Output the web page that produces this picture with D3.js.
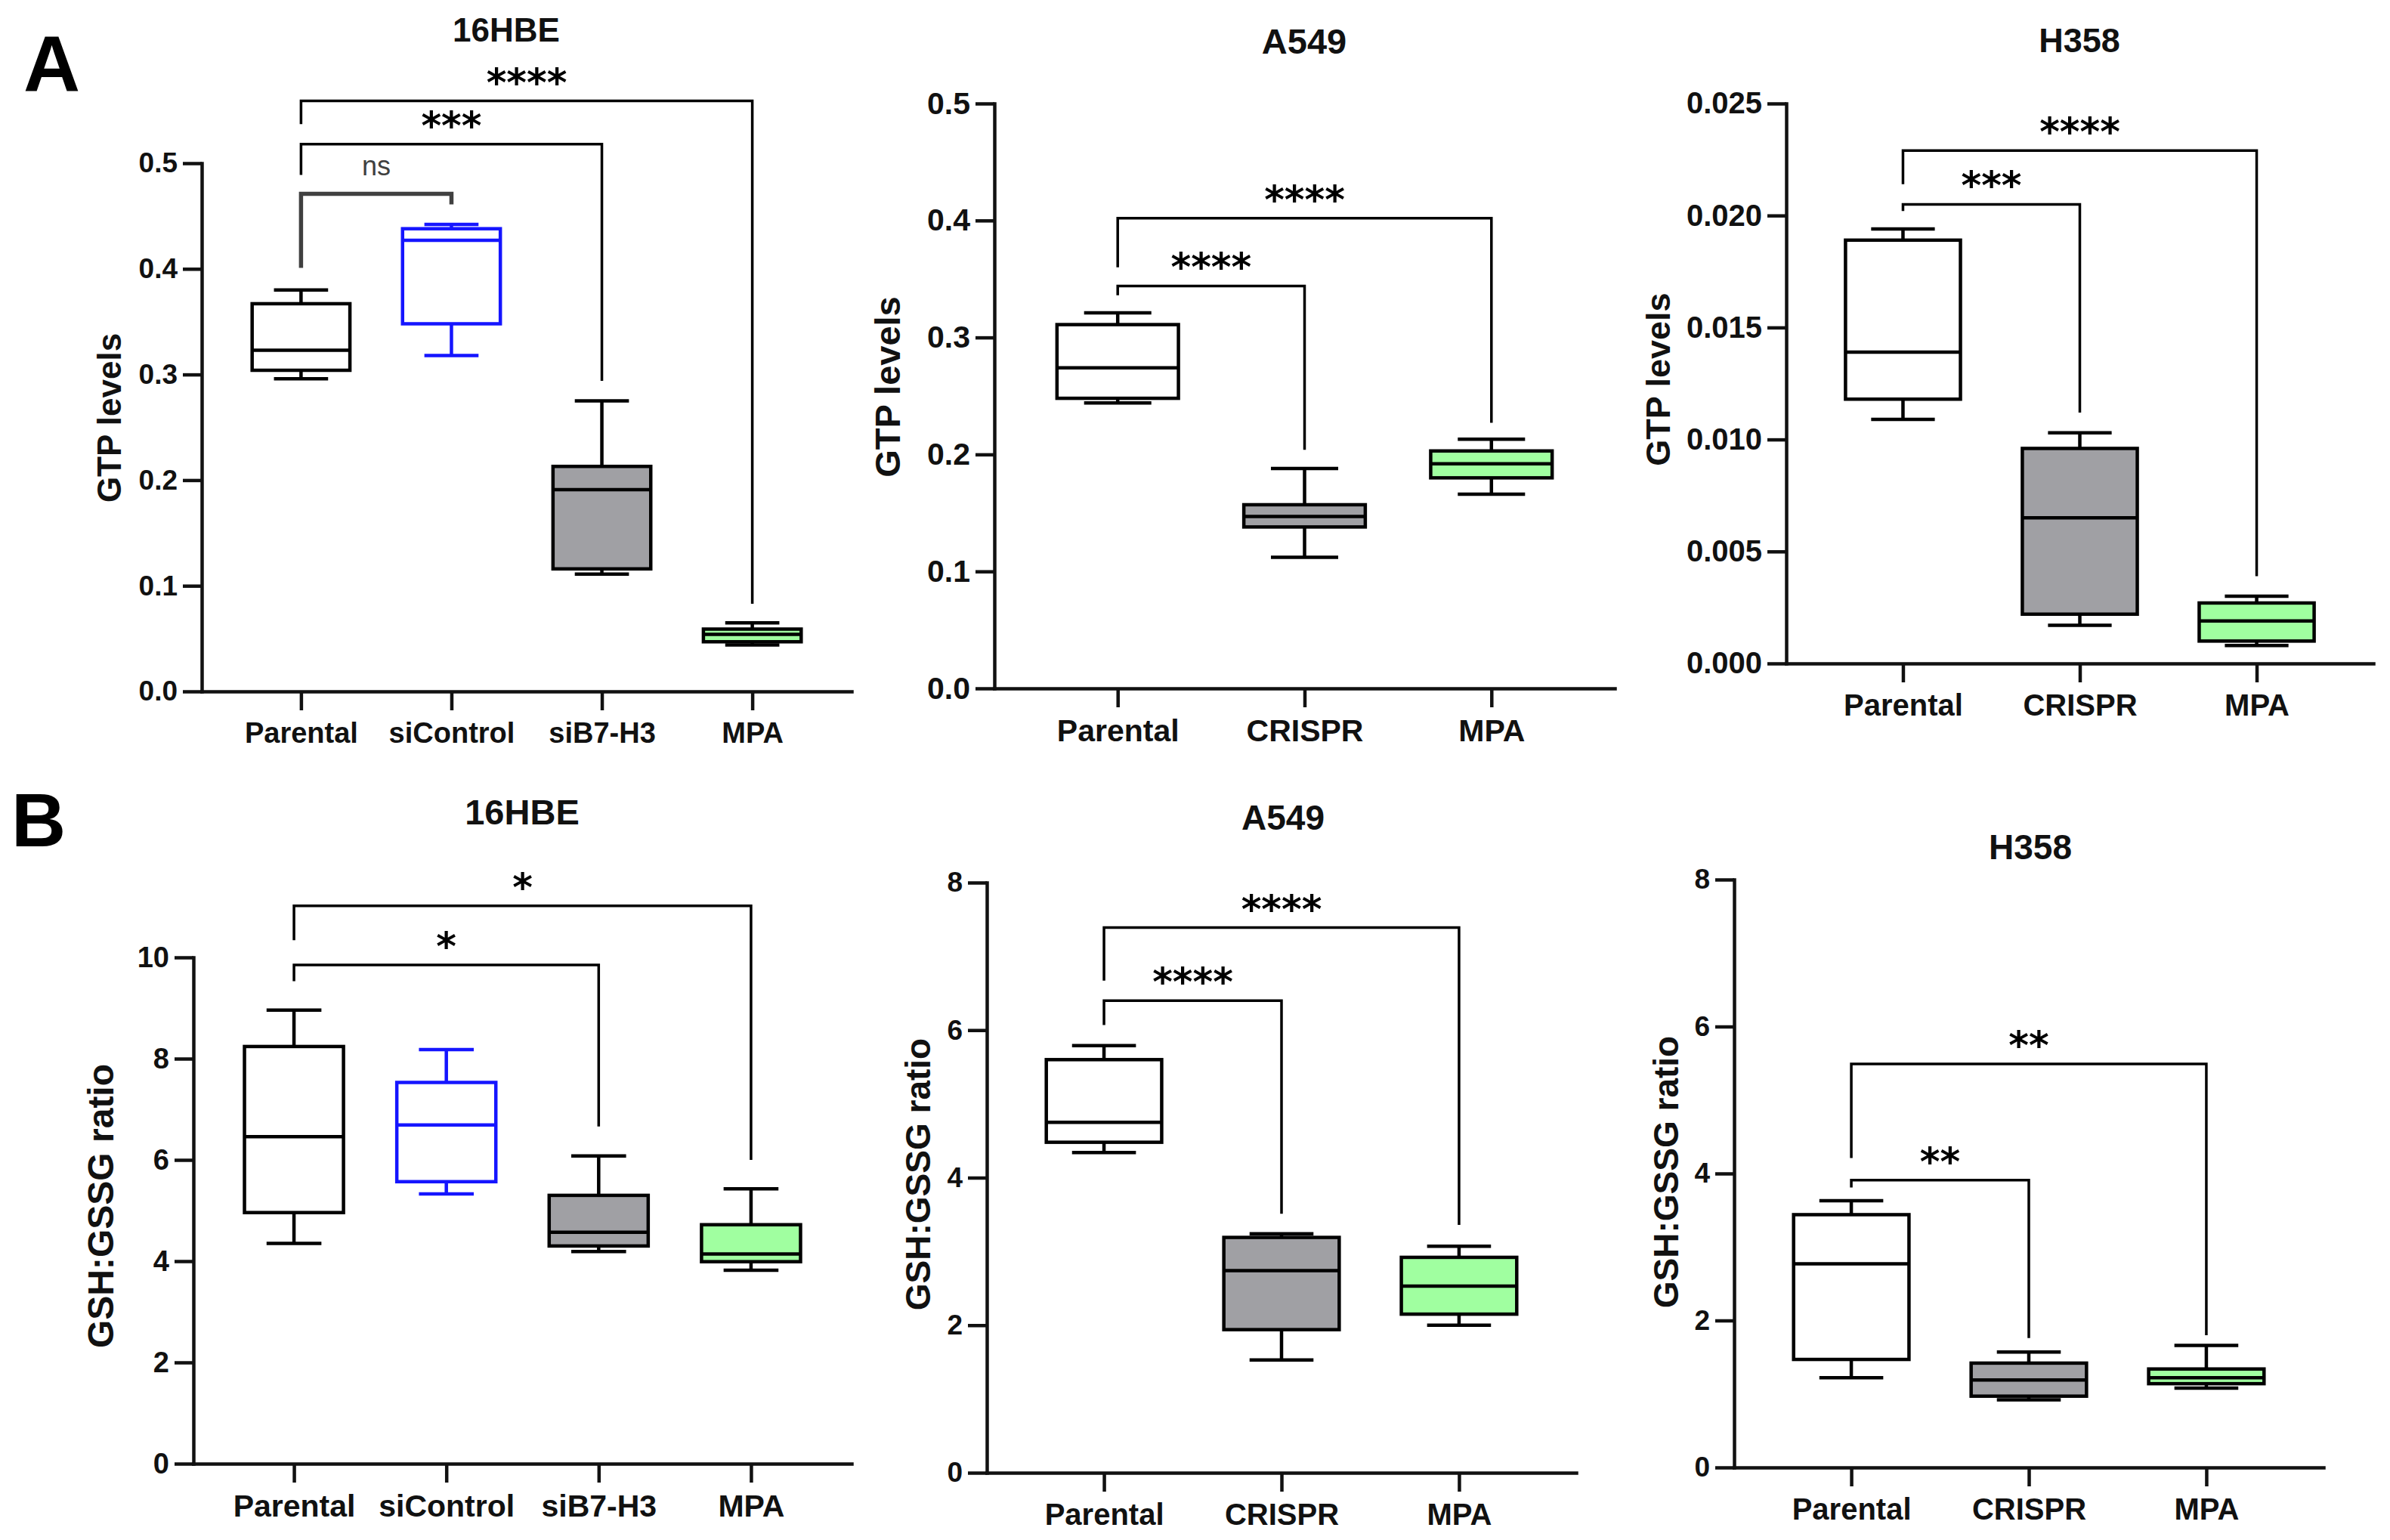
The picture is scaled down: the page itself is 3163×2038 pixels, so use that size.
<!DOCTYPE html>
<html>
<head>
<meta charset="utf-8">
<script src="https://cdn.jsdelivr.net/npm/d3@7"></script>
<style>
  html, body { margin: 0; padding: 0; background: #fff; }
</style>
</head>
<body>
<div id="chart"></div>
<script>
const W = 3163, H = 2038;

// groups on the x axis
const groups16HBE = ["Parental", "siControl", "siB7-H3", "MPA"];
const groupsCRISPR = ["Parental", "CRISPR", "MPA"];

// box summaries, one row per group: [min, q1, median, q3, max]
const gtp16HBE = [
    [0.296, 0.304, 0.323, 0.367, 0.380],
    [0.318, 0.348, 0.427, 0.438, 0.442],
    [0.111, 0.116, 0.191, 0.213, 0.275],
    [0.044, 0.047, 0.054, 0.059, 0.065]
];
const gtpA549 = [
    [0.244, 0.248, 0.274, 0.311, 0.321],
    [0.112, 0.138, 0.147, 0.157, 0.188],
    [0.166, 0.180, 0.192, 0.203, 0.213]
];
const gtpH358 = [
    [0.0109, 0.0118, 0.0139, 0.0189, 0.0194],
    [0.0017, 0.0022, 0.0065, 0.0096, 0.0103],
    [0.0008, 0.0010, 0.0019, 0.0027, 0.0030]
];
const gsh16HBE = [
    [4.35, 4.96, 6.46, 8.24, 8.96],
    [5.33, 5.57, 6.69, 7.53, 8.18],
    [4.19, 4.30, 4.57, 5.30, 6.08],
    [3.82, 3.99, 4.14, 4.72, 5.43]
];
const gshA549 = [
    [4.34, 4.48, 4.75, 5.60, 5.79],
    [1.53, 1.94, 2.74, 3.19, 3.24],
    [2.00, 2.15, 2.53, 2.92, 3.07]
];
const gshH358 = [
    [1.22, 1.47, 2.77, 3.44, 3.63],
    [0.92, 0.97, 1.19, 1.42, 1.57],
    [1.08, 1.14, 1.22, 1.34, 1.66]
];

// y tick labels
const ticksGtp = [0, 0.1, 0.2, 0.3, 0.4, 0.5];
const ticksGtpH358 = [0, 0.005, 0.010, 0.015, 0.020, 0.025];
const ticksGsh16HBE = [0, 2, 4, 6, 8, 10];
const ticksGsh = [0, 2, 4, 6, 8];

// significance brackets: [from group, to group, bar, left leg end, right leg end, label]
const sigGtp16HBE = [
    [0, 1, 0.471, 0.401, 0.461, "ns"],
    [0, 2, 0.518, 0.489, 0.294, "***"],
    [0, 3, 0.559, 0.537, 0.083, "****"]
];
const sigGtpA549 = [
    [0, 1, 0.344, 0.336, 0.204, "****"],
    [0, 2, 0.402, 0.360, 0.227, "****"]
];
const sigGtpH358 = [
    [0, 1, 0.0205, 0.0202, 0.0112, "***"],
    [0, 2, 0.0229, 0.0214, 0.0039, "****"]
];
const sigGsh16HBE = [
    [0, 2, 9.85, 9.53, 6.66, "*"],
    [0, 3, 11.02, 10.34, 6.00, "*"]
];
const sigGshA549 = [
    [0, 1, 6.40, 6.07, 3.51, "****"],
    [0, 2, 7.39, 6.67, 3.36, "****"]
];
const sigGshH358 = [
    [0, 1, 3.91, 3.81, 1.76, "**"],
    [0, 2, 5.49, 4.21, 1.80, "**"]
];

const gray = "#a0a0a4", green = "#a0ffa0", blue = "#1515ff";
const fills = { "Parental": "#fff", "siControl": "#fff", "siB7-H3": gray, "CRISPR": gray, "MPA": green };
const strokes = { "Parental": "#000", "siControl": blue, "siB7-H3": "#000", "CRISPR": "#000", "MPA": "#000" };

const font = "'Liberation Sans', Arial, Helvetica, sans-serif";

const panels = [
    { title: "16HBE", groups: groups16HBE, stats: gtp16HBE, ticks: ticksGtp, fmt: ".1f", sig: sigGtp16HBE, ylab: "GTP levels",
      left: 267, right: 1127, top: 216, bottom: 915, tickFs: 37, catFs: 38, titleFs: 44, titleX: 670, titleY: 55, ylabX: 144, ylabY: 553, ylabFs: 44 },
    { title: "A549", groups: groupsCRISPR, stats: gtpA549, ticks: ticksGtp, fmt: ".1f", sig: sigGtpA549, ylab: "GTP levels",
      left: 1316, right: 2137, top: 137, bottom: 911, tickFs: 41, catFs: 41, titleFs: 47, titleX: 1726, titleY: 71, ylabX: 1174, ylabY: 512, ylabFs: 47 },
    { title: "H358", groups: groupsCRISPR, stats: gtpH358, ticks: ticksGtpH358, fmt: ".3f", sig: sigGtpH358, ylab: "GTP levels",
      left: 2364, right: 3141, top: 137, bottom: 878, tickFs: 40, catFs: 40, titleFs: 45, titleX: 2752, titleY: 69, ylabX: 2194, ylabY: 502, ylabFs: 45 },
    { title: "16HBE", groups: groups16HBE, stats: gsh16HBE, ticks: ticksGsh16HBE, fmt: "d", sig: sigGsh16HBE, ylab: "GSH:GSSG ratio",
      left: 256, right: 1127, top: 1267, bottom: 1937, tickFs: 38, catFs: 41, titleFs: 47, titleX: 691, titleY: 1091, ylabX: 133, ylabY: 1596, ylabFs: 48 },
    { title: "A549", groups: groupsCRISPR, stats: gshA549, ticks: ticksGsh, fmt: "d", sig: sigGshA549, ylab: "GSH:GSSG ratio",
      left: 1306, right: 2086, top: 1168, bottom: 1949, tickFs: 37, catFs: 40, titleFs: 46, titleX: 1698, titleY: 1098, ylabX: 1214, ylabY: 1554, ylabFs: 46 },
    { title: "H358", groups: groupsCRISPR, stats: gshH358, ticks: ticksGsh, fmt: "d", sig: sigGshH358, ylab: "GSH:GSSG ratio",
      left: 2295, right: 3075, top: 1164, bottom: 1942, tickFs: 37, catFs: 40, titleFs: 46, titleX: 2687, titleY: 1137, ylabX: 2204, ylabY: 1551, ylabFs: 46 }
];

var svg = d3.select("#chart").append("svg")
    .attr("width", W)
    .attr("height", H)
    .attr("viewBox", `0 0 ${W} ${H}`)
    .style("display", "block");

svg.append("rect").attr("width", W).attr("height", H).attr("fill", "#fff");

// panel letters
svg.append("text").attr("x", 31).attr("y", 120).text("A")
    .attr("font-family", font).attr("font-weight", "bold").attr("font-size", 104);
svg.append("text").attr("x", 15).attr("y", 1120).text("B")
    .attr("font-family", font).attr("font-weight", "bold").attr("font-size", 100);

panels.forEach(drawPanel);

function drawPanel(p) {
    let g = svg.append("g");

    let x = d3.scalePoint().domain(p.groups).range([p.left, p.right]).padding(0.66);
    let y = d3.scaleLinear().domain([0, p.ticks[p.ticks.length - 1]]).range([p.bottom, p.top]);
    let step = x.step();
    let bw = step * 0.65, cw = step * 0.36;

    // axes
    let yAxis = g.append("g")
        .attr("transform", `translate(${p.left},0)`)
        .call(d3.axisLeft(y).tickValues(p.ticks).tickFormat(d3.format(p.fmt))
            .tickSize(25).tickPadding(7).tickSizeOuter(0));
    let xAxis = g.append("g")
        .attr("transform", `translate(0,${p.bottom})`)
        .call(d3.axisBottom(x).tickSize(25).tickPadding(16).tickSizeOuter(0));

    [yAxis, xAxis].forEach(a => {
        a.attr("font-family", font).attr("font-weight", "bold");
        a.select(".domain").attr("stroke", "#111").attr("stroke-width", 4.5).attr("stroke-linecap", "square");
        a.selectAll(".tick line").attr("stroke", "#111").attr("stroke-width", 4.5);
        a.selectAll(".tick text").attr("fill", "#111");
    });
    yAxis.attr("font-size", p.tickFs);
    xAxis.attr("font-size", p.catFs);

    // boxes
    let boxes = g.append("g").selectAll("g")
        .data(p.stats.map((s, i) => ({ name: p.groups[i], s: s })))
        .join("g")
        .attr("stroke", d => strokes[d.name])
        .attr("stroke-width", 4.5)
        .attr("fill", "none");

    boxes.append("path")
        .attr("d", d => {
            let cx = x(d.name);
            return `M${cx},${y(d.s[0])}V${y(d.s[1])}M${cx},${y(d.s[3])}V${y(d.s[4])}` +
                `M${cx - cw / 2},${y(d.s[0])}H${cx + cw / 2}M${cx - cw / 2},${y(d.s[4])}H${cx + cw / 2}`;
        });
    boxes.append("rect")
        .attr("x", d => x(d.name) - bw / 2)
        .attr("width", bw)
        .attr("y", d => y(d.s[3]))
        .attr("height", d => y(d.s[1]) - y(d.s[3]))
        .attr("fill", d => fills[d.name]);
    boxes.append("line")
        .attr("x1", d => x(d.name) - bw / 2)
        .attr("x2", d => x(d.name) + bw / 2)
        .attr("y1", d => y(d.s[2]))
        .attr("y2", d => y(d.s[2]));

    // significance brackets
    let sig = g.append("g").selectAll("g")
        .data(p.sig)
        .join("g");

    sig.append("path")
        .attr("fill", "none")
        .attr("stroke", d => d[5] == "ns" ? "#404040" : "#000")
        .attr("stroke-width", d => d[5] == "ns" ? 5.5 : 3.5)
        .attr("d", d => {
            let x1 = x(p.groups[d[0]]), x2 = x(p.groups[d[1]]);
            return `M${x1},${y(d[3])}V${y(d[2])}H${x2}V${y(d[4])}`;
        });

    sig.append("text")
        .attr("text-anchor", "middle")
        .attr("x", d => (x(p.groups[d[0]]) + x(p.groups[d[1]])) / 2)
        .attr("y", d => d[5] == "ns" ? y(d[2]) - 25 : y(d[2]) - 7)
        .attr("font-family", d => d[5] == "ns" ? font : "'DejaVu Sans', sans-serif")
        .attr("font-weight", d => d[5] == "ns" ? "normal" : "bold")
        .attr("font-size", d => d[5] == "ns" ? 36 : 51)
        .attr("fill", d => d[5] == "ns" ? "#404040" : "#000")
        .text(d => d[5]);

    // title
    g.append("text")
        .attr("x", p.titleX)
        .attr("y", p.titleY)
        .attr("text-anchor", "middle")
        .attr("font-family", font)
        .attr("font-weight", "bold")
        .attr("font-size", p.titleFs)
        .attr("fill", "#111")
        .text(p.title);

    // y label
    g.append("text")
        .attr("transform", `translate(${p.ylabX},${p.ylabY}) rotate(-90)`)
        .attr("text-anchor", "middle")
        .attr("dy", "0.36em")
        .attr("font-family", font)
        .attr("font-weight", "bold")
        .attr("font-size", p.ylabFs)
        .attr("fill", "#111")
        .text(p.ylab);
}
</script>
</body>
</html>
